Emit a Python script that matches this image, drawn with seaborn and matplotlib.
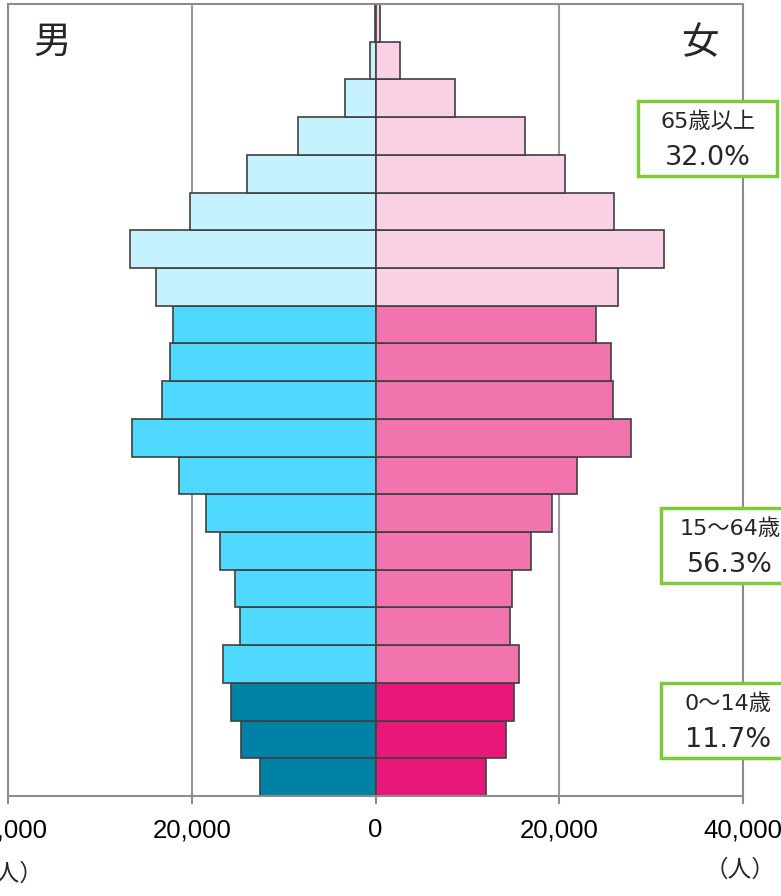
import numpy as np
import pandas as pd
import matplotlib
matplotlib.use("Agg")
import matplotlib.pyplot as plt
import seaborn as sns
from matplotlib.patches import Rectangle
from matplotlib.ticker import FuncFormatter

# age groups, bottom (0-4) to top (100+)
ages = ['0～4', '5～9', '10～14', '15～19', '20～24', '25～29', '30～34', '35～39',
        '40～44', '45～49', '50～54', '55～59', '60～64', '65～69', '70～74', '75～79',
        '80～84', '85～89', '90～94', '95～99', '100以上']
male = [12600, 14600, 15700, 16600, 14700, 15300, 16900, 18400, 21400, 26500, 23200,
        22400, 22000, 23900, 26700, 20200, 14000, 8400, 3300, 650, 80]
female = [12000, 14200, 15100, 15600, 14600, 14900, 16900, 19200, 21900, 27800, 25800,
          25600, 24000, 26400, 31400, 26000, 20600, 16300, 8700, 2700, 500]
groups = ['young'] * 3 + ['work'] * 10 + ['old'] * 8

share_labels = ['65歳以上', '15～64歳', '0～14歳']
share_values = ['32.0%', '56.3%', '11.7%']

male_colors = {'young': '#0082A6', 'work': '#50D9FF', 'old': '#C6F2FF'}
female_colors = {'young': '#E9177A', 'work': '#F274AE', 'old': '#FAD0E4'}

df = pd.DataFrame({'age': ages, 'male': male, 'female': female, 'group': groups})
df['male_neg'] = -df['male']
order = ages[::-1]

sns.set_style('white')
plt.rcParams['font.family'] = ['Liberation Sans', 'Noto Sans CJK JP']
cjk = ['Noto Sans CJK JP', 'DejaVu Sans']
boxfont = ['DejaVu Sans', 'Noto Sans CJK JP']

fig = plt.figure(figsize=(7.81, 8.96), dpi=100)
ax = fig.add_axes([8 / 781, 100 / 896, 735 / 781, 792 / 896])

pal_m = {a: male_colors[g] for a, g in zip(ages, groups)}
pal_f = {a: female_colors[g] for a, g in zip(ages, groups)}

sns.barplot(data=df, x='male_neg', y='age', hue='age', order=order, palette=pal_m,
            width=1.0, edgecolor='#404040', linewidth=1.2, legend=False, ax=ax,
            orient='h', saturation=1)
sns.barplot(data=df, x='female', y='age', hue='age', order=order, palette=pal_f,
            width=1.0, edgecolor='#404040', linewidth=1.2, legend=False, ax=ax,
            orient='h', saturation=1)

ax.set_xlim(-40000, 40000)
ax.set_ylim(len(ages) - 0.5, -0.5)
ax.set_xticks([-40000, -20000, 0, 20000, 40000])
ax.xaxis.set_major_formatter(FuncFormatter(lambda v, p: f'{abs(int(v)):,}'))
ax.set_yticks([])
ax.set_xlabel('')
ax.set_ylabel('')
ax.set_axisbelow(True)
ax.grid(axis='x', color='#999999', linewidth=1.5)
for s in ax.spines.values():
    s.set_color('#8c8c8c')
    s.set_linewidth(1.5)
ax.tick_params(axis='x', bottom=True, length=6, width=1.5, color='#8c8c8c',
               labelsize=18.5, pad=10, labelcolor='black')

# sex labels
fig.text(52 / 781, 1 - 42 / 896, '男', fontsize=27, family=cjk, ha='center', va='center')
fig.text(700 / 781, 1 - 44 / 896, '女', fontsize=27, family=cjk, ha='center', va='center')

# unit labels
fig.text(740 / 781, 1 - 870 / 896, '（人）', fontsize=17, family=cjk, ha='center', va='center')
fig.text(8 / 781, 1 - 874 / 896, '（人）', fontsize=17, family=cjk, ha='center', va='center')

# share boxes (x0, y_top, width, height, center x)
boxes = [(638, 101, 139, 75, 708), (661, 508, 139, 75, 730), (661, 683, 139, 75, 728)]
for (x0, y0, w, h, cx), lab, val in zip(boxes, share_labels, share_values):
    fig.patches.append(Rectangle((x0 / 781, 1 - (y0 + h) / 896), w / 781, h / 896,
                                 transform=fig.transFigure, facecolor='white',
                                 edgecolor='#7DCB3A', linewidth=2.5, zorder=5))
    fig.text(cx / 781, 1 - (y0 + 21) / 896, lab, fontsize=16, family=boxfont,
             ha='center', va='center', zorder=6)
    fig.text(cx / 781, 1 - (y0 + 57) / 896, val, fontsize=19.5, family=boxfont,
             ha='center', va='center', zorder=6)

fig.savefig('out.png', dpi=100)
